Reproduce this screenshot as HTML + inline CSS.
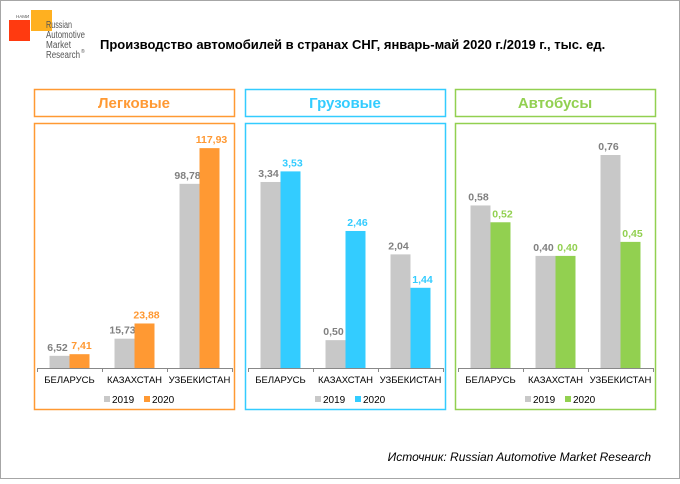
<!DOCTYPE html>
<html><head><meta charset="utf-8"><style>
body{margin:0;width:680px;height:479px;background:#fff;font-family:"Liberation Sans",Arial,sans-serif;overflow:hidden}
</style></head><body>
<svg width="680" height="479" viewBox="0 0 680 479" xmlns="http://www.w3.org/2000/svg">
<rect x="0.5" y="0.5" width="679" height="478" fill="#fff" stroke="#a6a6a6"/>
<g>
<rect x="9" y="20" width="21" height="21" fill="#ff3a10"/>
<rect x="31" y="10" width="21" height="21" fill="#ffb020"/>
<text x="16" y="18" font-size="4.5" fill="#555">НАМИ</text>
<text x="46" y="28" font-size="10" fill="#555" textLength="26" lengthAdjust="spacingAndGlyphs">Russian</text>
<text x="46" y="38" font-size="10" fill="#555" textLength="39" lengthAdjust="spacingAndGlyphs">Automotive</text>
<text x="46" y="48" font-size="10" fill="#555" textLength="25" lengthAdjust="spacingAndGlyphs">Market</text>
<text x="46" y="58" font-size="10" fill="#555" textLength="34" lengthAdjust="spacingAndGlyphs">Research</text>
<text x="81" y="53" font-size="5" fill="#555">®</text>
</g>
<text x="100" y="49" font-size="13" font-weight="bold" fill="#000">Производство автомобилей в странах СНГ, январь-май 2020 г./2019 г., тыс. ед.</text>
<g id="panels"></g>
<text x="651" y="461" font-size="12" font-style="italic" text-anchor="end" fill="#000">Источник: Russian Automotive Market Research</text>
</svg>
<script>
const categories = ["БЕЛАРУСЬ","КАЗАХСТАН","УЗБЕКИСТАН"];
const panelTitles = ["Легковые","Грузовые","Автобусы"];
const cars2019 = [6.52,15.73,98.78];
const cars2020 = [7.41,23.88,117.93];
const trucks2019 = [3.34,0.50,2.04];
const trucks2020 = [3.53,2.46,1.44];
const buses2019 = [0.58,0.40,0.76];
const buses2020 = [0.52,0.40,0.45];
const panelMax = [118,3.95,0.785];
const panelData = [[cars2019,cars2020],[trucks2019,trucks2020],[buses2019,buses2020]];
const colors = ["#ff9933","#33ccff","#92d050"];
const NS="http://www.w3.org/2000/svg";
const root=document.getElementById('panels');
function mk(tag,attrs,parent){const e=document.createElementNS(NS,tag);for(const k in attrs)e.setAttribute(k,attrs[k]);(parent||root).appendChild(e);return e;}
const fmt=v=>v.toFixed(2).replace('.',',');
const panelX=[34,245,455];
panelData.forEach((d,p)=>{
  const x0=panelX[p], col=colors[p];
  const g=mk('g',{});
  
  
  const hb=mk('rect',{x:x0+0.5,y:89.5,width:200,height:27,fill:'none',stroke:col,'stroke-width':1.5},g);
  
  
  const ht=mk('text',{x:x0+100,y:108,'font-size':15,'font-weight':'bold',fill:col,'text-anchor':'middle'},g);
  ht.textContent=panelTitles[p];
  
  
  const cb=mk('rect',{x:x0+0.5,y:123.5,width:200,height:286,fill:'none',stroke:col,'stroke-width':1.5},g);
  
  
  const axisY=368, scale=220/panelMax[p];
  const yPos=v=>axisY-v*scale;
  const catW=65, ax0=x0+3;
  const al=mk('line',{x1:ax0,x2:ax0+3*catW,y1:axisY+0.5,y2:axisY+0.5,stroke:'#888'},g);
  
  
  for(let i=0;i<=3;i++){mk('line',{x1:ax0+i*catW+0.5,x2:ax0+i*catW+0.5,y1:axisY,y2:axisY+4,stroke:'#888'},g);}
  categories.forEach((c,i)=>{
    const cx=ax0+i*catW+catW/2;
    [0,1].forEach(s=>{
      const v=d[s][i], bx=cx-20+s*20, fill=s?col:'#c8c8c8';
      const r=mk('rect',{x:bx,y:yPos(v),width:20,height:v*scale,fill:fill},g);
      
      
      const t=mk('text',{x:bx+10+(s?2:-2),y:yPos(v)-5,'font-size':10.5,'font-weight':'bold',fill:s?col:'#808080','text-anchor':'middle'},g);
      t.textContent=fmt(v);
      
      
    });
    const ct=mk('text',{x:cx,y:383,'font-size':9.5,fill:'#000','text-anchor':'middle'},g);
    ct.textContent=c;
    
    
  });
  const lx=x0+70;
  [['#c8c8c8','2019'],[col,'2020']].forEach((L,k)=>{
    const lg=mk('g',{},g);
    
    
    mk('rect',{x:lx+k*40,y:396,width:6,height:6,fill:L[0]},lg);
    const lt=mk('text',{x:lx+k*40+8,y:403,'font-size':10,fill:'#000'},lg);
    lt.textContent=L[1];
  });
});
</script>
</body></html>
